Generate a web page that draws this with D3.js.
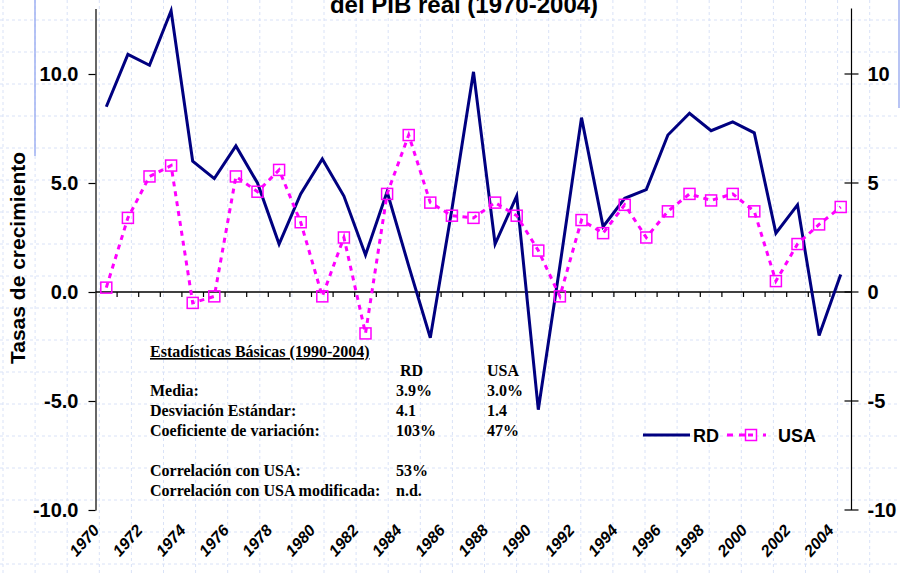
<!DOCTYPE html>
<html>
<head>
<meta charset="utf-8">
<script src="https://cdn.jsdelivr.net/npm/d3@7"></script>
<style>
  body { margin: 0; background: #fff; }
  svg { display: block; }
</style>
</head>
<body>
<svg id="chart" width="900" height="573"></svg>
<script>
// categories
const years = [1970,1971,1972,1973,1974,1975,1976,1977,1978,1979,
               1980,1981,1982,1983,1984,1985,1986,1987,1988,1989,
               1990,1991,1992,1993,1994,1995,1996,1997,1998,1999,
               2000,2001,2002,2003,2004]
// series values (growth, %)
const rd  = [8.5,10.9,10.4,12.9,6.0,5.2,6.7,5.0,2.2,4.5,
             6.1,4.4,1.7,4.6,1.2,-2.1,3.8,10.1,2.2,4.4,
             -5.4,1.2,8.0,3.0,4.3,4.7,7.2,8.2,7.4,7.8,
             7.3,2.7,4.0,-2.0,0.8]
const usa = [0.2,3.4,5.3,5.8,-0.5,-0.2,5.3,4.6,5.6,3.2,
             -0.2,2.5,-1.9,4.5,7.2,4.1,3.5,3.4,4.1,3.5,
             1.9,-0.2,3.3,2.7,4.0,2.5,3.7,4.5,4.2,4.5,
             3.7,0.5,2.2,3.1,3.9]
// tick labels
const leftTicks = [10, 5, 0, -5, -10]
const rightTicks = [10, 5, 0, -5, -10]
const yearLabels = years.filter(y => y % 2 === 0)
// stats box
const statTitle = "Estadísticas Básicas (1990-2004)"
const statHeads = ["RD", "USA"]
const statLabels = ["Media:", "Desviación Estándar:", "Coeficiente de variación:", "", "Correlación con USA:", "Correlación con USA modificada:"]
const statRD  = ["3.9%", "4.1", "103%", "", "53%", "n.d."]
const statUSA = ["3.0%", "1.4", "47%", "", "", ""]

const svg = d3.select("#chart")
const W = 900, H = 573

//background grid (slide pattern)
let gGrid = svg.append("g").attr("id","grid")
gGrid.selectAll("line.h").data(d3.range(20, H, 32)).enter().append("line")
  .attr("x1",0).attr("x2",W).attr("y1",d=>d).attr("y2",d=>d)
  .attr("stroke","#d9e2f7").attr("stroke-width",1).attr("stroke-dasharray","3,3")
gGrid.selectAll("line.v").data(d3.range(3, W, 32.1)).enter().append("line")
  .attr("y1",0).attr("y2",H).attr("x1",d=>d).attr("x2",d=>d)
  .attr("stroke","#d9e2f7").attr("stroke-width",1).attr("stroke-dasharray","3,3")
//slide decorations
svg.append("line").attr("x1",35).attr("x2",35).attr("y1",0).attr("y2",156)
  .attr("stroke","#9fb0f2").attr("stroke-width",1.5)
svg.append("rect").attr("x",898).attr("y",0).attr("width",2).attr("height",108).attr("fill","#b8c4f4")

//scales
const x = d3.scaleBand().domain(years).range([95.5, 851.5])
const cx = d => x(d) + x.bandwidth()/2
const y = d3.scaleLinear().domain([-10, 13]).range([510, 8.6])

//left axis
let gL = svg.append("g").attr("transform","translate(95.5,0)")
  .call(d3.axisLeft(y).tickValues(leftTicks).tickFormat(d => d.toFixed(1)).tickSize(7).tickPadding(10).tickSizeOuter(0))
gL.select(".domain").attr("stroke","#000").attr("stroke-width",1.2)
gL.selectAll(".tick line").attr("stroke","#000").attr("stroke-width",1.2)
gL.selectAll(".tick text").attr("font-family","Liberation Sans, Arial, sans-serif")
  .attr("font-weight","bold").attr("font-size",20).attr("fill","#000")

//right axis (cross ticks)
let gR = svg.append("g").attr("transform","translate(851.5,0)")
gR.append("line").attr("y1",y(13)).attr("y2",y(-10)).attr("stroke","#000").attr("stroke-width",1.2)
gR.selectAll("line.t").data(rightTicks).enter().append("line")
  .attr("x1",-7).attr("x2",7).attr("y1",d=>y(d)).attr("y2",d=>y(d))
  .attr("stroke","#000").attr("stroke-width",1.2)
gR.selectAll("text").data(rightTicks).enter().append("text")
  .attr("x",16).attr("y",d=>y(d)).attr("dy","0.36em")
  .attr("font-family","Liberation Sans, Arial, sans-serif").attr("font-weight","bold").attr("font-size",20)
  .text(d => d)

//zero line with category ticks
let gX = svg.append("g").attr("transform","translate(0,"+y(0)+")")
gX.append("line").attr("x1",x.range()[0]).attr("x2",x.range()[1]).attr("stroke","#000").attr("stroke-width",1.5)
gX.selectAll("line.t").data(years.slice(1)).enter().append("line")
  .attr("x1",d=>x(d)).attr("x2",d=>x(d)).attr("y1",0).attr("y2",5)
  .attr("stroke","#000").attr("stroke-width",1.2)

//year labels along the bottom
svg.append("g").selectAll("text").data(yearLabels).enter().append("text")
  .attr("transform", d => "translate(" + (cx(d)-6) + ",531) rotate(-48)")
  .attr("text-anchor","end")
  .attr("font-family","Liberation Sans, Arial, sans-serif").attr("font-weight","bold").attr("font-style","italic").attr("font-size",16)
  .text(d => d)

//axis title
svg.append("text").attr("transform","translate(25,258) rotate(-90)")
  .attr("text-anchor","middle")
  .attr("font-family","Liberation Sans, Arial, sans-serif").attr("font-weight","bold").attr("font-size",21)
  .text("Tasas de crecimiento")

//chart title (upper part is cut off in the slide)
svg.append("text").attr("x",464).attr("y",13).attr("text-anchor","middle")
  .attr("font-family","Liberation Sans, Arial, sans-serif").attr("font-weight","bold").attr("font-size",24)
  .text("del PIB real (1970-2004)")

//series
const line = d3.line().x((d,i) => cx(years[i])).y(d => y(d))
svg.append("path").datum(rd).attr("d", line)
  .attr("fill","none").attr("stroke","#000080").attr("stroke-width",3).attr("stroke-linejoin","miter")
svg.append("path").datum(usa).attr("d", line)
  .attr("fill","none").attr("stroke","#ff00ff").attr("stroke-width",3).attr("stroke-dasharray","5,5")
svg.append("g").selectAll("rect").data(usa).enter().append("rect")
  .attr("x",(d,i) => cx(years[i]) - 5.5).attr("y", d => y(d) - 5.5)
  .attr("width",11).attr("height",11)
  .attr("fill","none").attr("stroke","#ff00ff").attr("stroke-width",1.5)

//stats box
let gS = svg.append("g").attr("font-family","Liberation Serif, Times New Roman, serif")
  .attr("font-weight","bold").attr("font-size",16).attr("fill","#000")
gS.append("text").attr("x",150).attr("y",357).attr("text-decoration","underline").text(statTitle)
gS.append("text").attr("x",400).attr("y",376).text(statHeads[0])
gS.append("text").attr("x",487).attr("y",376).text(statHeads[1])
statLabels.forEach((s,i) => {
  let yy = 396 + i*20
  gS.append("text").attr("x",150).attr("y",yy).text(s)
  gS.append("text").attr("x",396).attr("y",yy).text(statRD[i])
  gS.append("text").attr("x",487).attr("y",yy).text(statUSA[i])
})

//legend
let gLeg = svg.append("g")
gLeg.append("line").attr("x1",643).attr("x2",690).attr("y1",435).attr("y2",435)
  .attr("stroke","#000080").attr("stroke-width",3)
gLeg.append("line").attr("x1",727).attr("x2",766).attr("y1",435).attr("y2",435)
  .attr("stroke","#ff00ff").attr("stroke-width",3).attr("stroke-dasharray","6,6")
gLeg.append("rect").attr("x",745.5).attr("y",429.5).attr("width",11).attr("height",11)
  .attr("fill","#fff").attr("stroke","#ff00ff").attr("stroke-width",1.5)
gLeg.append("line").attr("x1",748).attr("x2",753).attr("y1",435).attr("y2",435)
  .attr("stroke","#ff00ff").attr("stroke-width",3)
gLeg.selectAll("text").data(statHeads).enter().append("text")
  .attr("x",(d,i) => i ? 778 : 693).attr("y",441.5)
  .attr("font-family","Liberation Sans, Arial, sans-serif").attr("font-weight","bold").attr("font-size",18)
  .text(d => d)
</script>
</body>
</html>
